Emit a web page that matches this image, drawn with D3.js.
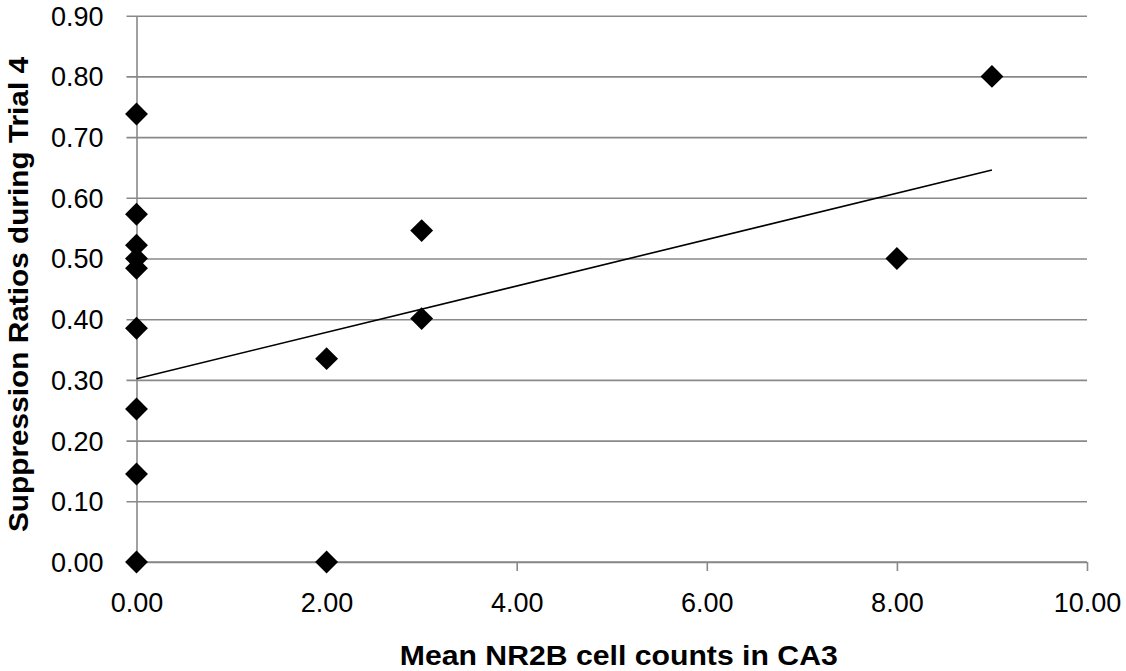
<!DOCTYPE html>
<html>
<head>
<meta charset="utf-8">
<script src="https://cdn.jsdelivr.net/npm/d3@7"></script>
<style>
  html, body { margin: 0; padding: 0; background: #fff; }
  svg { display: block; }
  text { font-family: "Liberation Sans", Arial, sans-serif; fill: #000; }
</style>
</head>
<body>
<svg id="chart" width="1126" height="671"></svg>
<script>
// NR2B cell counts (CA3) vs. suppression ratio in trial 4
const cellCounts = [0, 0, 0, 0, 0, 0, 0, 0, 0, 2, 2, 3, 3, 8, 9];
const suppression = [0.738, 0.573, 0.522, 0.500, 0.484, 0.385, 0.252, 0.145, 0.000,
                     0.335, 0.000, 0.546, 0.401, 0.500, 0.800];

// linear trendline: [intercept, slope], drawn over the observed x span
const trendCoef = [0.302, 0.0382];
const trendSpan = [0, 9];

const xTicks = [0, 2, 4, 6, 8, 10];
const yTicks = [0, 0.1, 0.2, 0.3, 0.4, 0.5, 0.6, 0.7, 0.8, 0.9];

const xTitle = "Mean NR2B cell counts in CA3";
const yTitle = "Suppression Ratios during Trial 4";

const svg = d3.select("#chart");
const plotLeft = 136.5, plotRight = 1087, plotTop = 15.7, plotBottom = 562;

const x = d3.scaleLinear().domain([0, 10]).range([plotLeft, plotRight]);
const y = d3.scaleLinear().domain([0, 0.9]).range([plotBottom, plotTop]);

const gridColor = "#898989";

// horizontal gridlines (extend 10px left of the axis as outer ticks)
const grid = svg.append("g")
  .attr("transform", `translate(${plotRight},0)`)
  .call(d3.axisLeft(y).tickValues(yTicks).tickSize(plotRight - plotLeft + 10).tickFormat(""));
grid.select(".domain").remove();
grid.selectAll("line").attr("stroke", gridColor).attr("stroke-width", 1.6);

// y tick labels
const yAxis = svg.append("g")
  .attr("transform", `translate(${plotLeft},0)`)
  .call(d3.axisLeft(y).tickValues(yTicks).tickSize(0).tickPadding(33).tickFormat(d3.format(".2f")));
yAxis.select(".domain").attr("stroke", gridColor).attr("stroke-width", 1.6);
yAxis.selectAll("text").style("font-size", "27px").attr("dy", "0.35em");

// x axis with downward ticks
const xAxis = svg.append("g")
  .attr("transform", `translate(0,${plotBottom})`)
  .call(d3.axisBottom(x).tickValues(xTicks).tickSize(9).tickPadding(22).tickFormat(d3.format(".2f")));
xAxis.select(".domain").attr("d", `M${plotLeft},0H${plotRight}`).attr("stroke", gridColor).attr("stroke-width", 1.6);
xAxis.selectAll("line").attr("stroke", gridColor).attr("stroke-width", 1.6);
xAxis.selectAll("text").style("font-size", "27px");

// trendline
const trendLine = d3.line().x(d => x(d)).y(d => y(trendCoef[0] + trendCoef[1] * d));
svg.append("path")
  .datum(trendSpan)
  .attr("d", trendLine)
  .attr("fill", "none")
  .attr("stroke", "#000")
  .attr("stroke-width", 1.6);

// diamond markers
const diamond = d3.symbol(d3.symbolSquare, 262);
svg.append("g").selectAll("path")
  .data(cellCounts.map((c, i) => [c, suppression[i]]))
  .join("path")
  .attr("d", diamond)
  .attr("transform", d => `translate(${x(d[0])},${y(d[1])}) rotate(45)`)
  .attr("fill", "#000");

// axis titles
svg.append("text")
  .attr("x", (plotLeft + plotRight) / 2 + 7)
  .attr("y", 665)
  .attr("text-anchor", "middle")
  .attr("textLength", 438)
  .attr("lengthAdjust", "spacingAndGlyphs")
  .style("font-size", "27px")
  .style("font-weight", "bold")
  .text(xTitle);

svg.append("text")
  .attr("transform", `translate(28,${294.5}) rotate(-90)`)
  .attr("text-anchor", "middle")
  .attr("textLength", 475)
  .attr("lengthAdjust", "spacingAndGlyphs")
  .style("font-size", "27px")
  .style("font-weight", "bold")
  .text(yTitle);
</script>
</body>
</html>
